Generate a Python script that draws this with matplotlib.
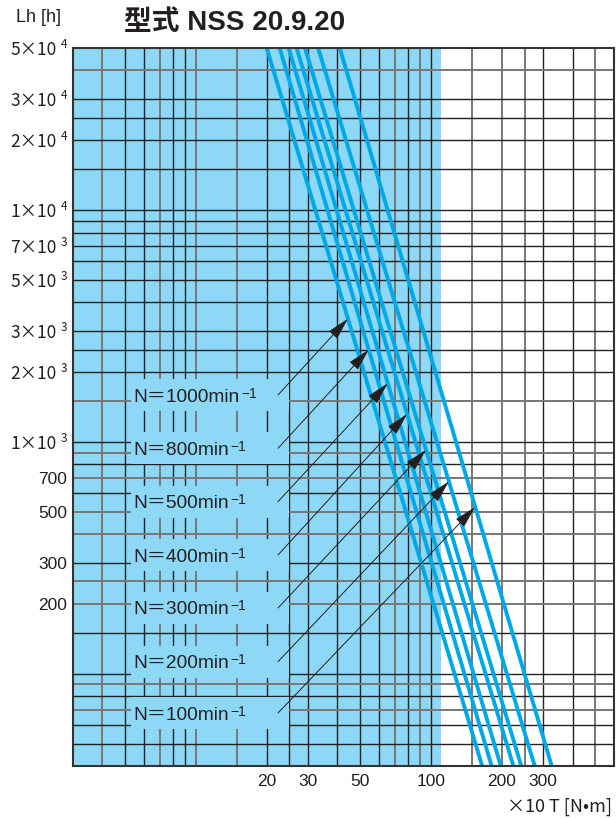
import numpy as np
import matplotlib
matplotlib.use('Agg')
import matplotlib.pyplot as plt
from matplotlib.patches import Rectangle

plt.rcParams['font.family'] = ['Liberation Sans', 'Noto Sans CJK JP', 'DejaVu Sans']
cjk = ['Noto Sans CJK JP', 'Liberation Sans', 'DejaVu Sans']

# 回転数ごとの寿命線: Lh=5e4 と Lh=40 での T (×10 N·m)
speeds = [1000, 800, 500, 400, 300, 200, 100]
lh_ends = [5e4, 40]
t_top = [20, 22.7, 24.8, 26.8, 29.1, 33.1, 40.9]
t_bot = [165, 181, 198, 224, 242, 276, 326]
# 矢印の先端が指す Lh
arrow_lh = [3400, 2500, 1790, 1320, 925, 675, 524]

x_ticks = [20, 30, 50, 100, 200, 300]
y_ticks = [5e4, 3e4, 2e4, 1e4, 7e3, 5e3, 3e3, 2e3, 1e3, 700, 500, 300, 200]
y_base = ['5×10', '3×10', '2×10', '1×10', '7×10', '5×10', '3×10',
          '2×10', '1×10', '700', '500', '300', '200']
y_exp = ['4', '4', '4', '4', '3', '3', '3', '3', '3', '', '', '', '']

# 目盛線 (濃い線 / 薄い線)
x_grid_dark = [5, 6, 8, 9, 20, 25, 30, 40, 50, 60, 80, 100, 300, 400]
x_grid_light = [4, 7, 10, 15, 70, 90, 150, 200, 250, 500]
y_grid_dark = [50, 60, 80, 100, 150, 300, 600, 800, 1000, 2000, 2500, 3000, 4000,
               5000, 6000, 7000, 8000, 9000, 1e4, 1.5e4, 2e4, 2.5e4, 3e4]
y_grid_light = [70, 90, 200, 250, 400, 500, 700, 900, 1500, 4e4]

bg_blue = '#8dd7f7'
line_blue = '#00a8e6'
ink = '#231f20'

fig = plt.figure(figsize=(6.16, 8.19), dpi=100)
ax = fig.add_axes([73/616, 53/819, 541/616, 718/819])
ax.set_xscale('log')
ax.set_yscale('log')
ax.set_xlim(3, 600)
ax.set_ylim(40, 5e4)

ax.axvspan(3, 110, color=bg_blue, lw=0, zorder=0)
for v in x_grid_dark:
    ax.axvline(v, color='#222222', lw=1.0, zorder=1)
for v in x_grid_light:
    ax.axvline(v, color='#777777', lw=1.4, zorder=1)
for v in y_grid_dark:
    ax.axhline(v, color='#222222', lw=1.0, zorder=1)
for v in y_grid_light:
    ax.axhline(v, color='#777777', lw=1.4, zorder=1)

for i in range(len(speeds)):
    ax.plot([t_top[i], t_bot[i]], lh_ends, color=line_blue, lw=2.8,
            solid_capstyle='butt', zorder=3)

# ラベルと矢印
label_py = [395, 448.3, 501.7, 555, 608, 661.7, 713]
for i, n in enumerate(speeds):
    yf = (766 - label_py[i]) / 718
    ax.add_patch(Rectangle((58/541, yf - 16/718), 158/541, 32/718,
                           transform=ax.transAxes, fc=bg_blue, ec='none', zorder=2))
    t = ax.text(60/541, yf, f'N＝{n}min', transform=ax.transAxes, fontsize=13.8,
                ha='left', va='center_baseline', color=ink, zorder=4)
    ax.annotate('−1', xy=(1, yf), xycoords=(t, 'axes fraction'), xytext=(1.5, -1.8),
                textcoords='offset points', ha='left', va='baseline', fontsize=10,
                color=ink, zorder=4)
    k = (np.log10(arrow_lh[i]) - np.log10(lh_ends[0])) / (np.log10(lh_ends[1]) - np.log10(lh_ends[0]))
    tip_t = 10 ** (np.log10(t_top[i]) + k * (np.log10(t_bot[i]) - np.log10(t_top[i])))
    ax.annotate('', xy=(tip_t, arrow_lh[i]), xycoords='data',
                xytext=(205/541, yf), textcoords='axes fraction',
                arrowprops=dict(arrowstyle='-|>,head_length=1.0,head_width=0.25',
                                color=ink, lw=0.7, mutation_scale=14,
                                shrinkA=0, shrinkB=0), zorder=5)

ax.set_xticks(x_ticks)
ax.set_xticklabels([str(v) for v in x_ticks])
ax.set_yticks(y_ticks)
ax.set_yticklabels([])
ax.minorticks_off()
ax.tick_params(length=0, labelsize=12.5, colors=ink, pad=6)

# 縦軸の目盛ラベル (指数は別に小さく)
for v, b, e in zip(y_ticks, y_base, y_exp):
    if e:
        ax.annotate(b, xy=(0, v), xycoords=('axes fraction', 'data'), xytext=(-11.9, 0),
                    textcoords='offset points', ha='right', va='center_baseline',
                    fontsize=12.5, family=cjk, color=ink, annotation_clip=False)
        ax.annotate(e, xy=(0, v), xycoords=('axes fraction', 'data'), xytext=(-4.3, 7.4),
                    textcoords='offset points', ha='right', va='top',
                    fontsize=8.5, family=cjk, color=ink, annotation_clip=False)
    else:
        ax.annotate(b, xy=(0, v), xycoords=('axes fraction', 'data'), xytext=(-4.3, 0),
                    textcoords='offset points', ha='right', va='center_baseline',
                    fontsize=12.5, color=ink, annotation_clip=False)

for s in ax.spines.values():
    s.set_color('#333333')
    s.set_linewidth(1.5)
    s.set_zorder(6)

fig.text(16/616, 1 - 18/819, 'Lh [h]', fontsize=13, ha='left', va='center', color=ink)
fig.text(124/616, 1 - 23/819, '型式 NSS 20.9.20', fontsize=20, fontweight='bold',
         ha='left', va='center', color=ink)
fig.text(612/616, 1 - 807/819, '×10 T [N•m]', fontsize=13, ha='right', va='center',
         family=cjk, color=ink)

fig.savefig('out.png', dpi=100)
